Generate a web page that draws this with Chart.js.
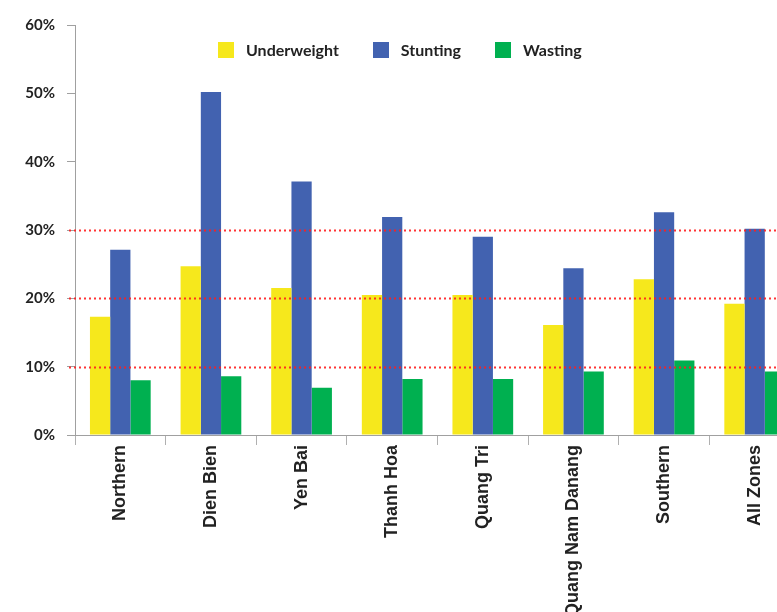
<!DOCTYPE html>
<html>
<head>
<meta charset="utf-8">
<script src="https://cdn.jsdelivr.net/npm/chart.js@4.4.1/dist/chart.umd.min.js"></script>
<style>
    html, body { margin: 0; padding: 0; background: #fff; overflow: hidden; }
    #wrap { position: relative; width: 777px; height: 612px; overflow: hidden; }
    #legend {
        position: absolute; top: 40px; left: 218px;
        display: flex; gap: 34px;
        font-family: Lato, "DejaVu Sans", sans-serif; font-weight: bold; font-size: 16px; color: #222;
    }
    #legend .item { display: flex; align-items: center; }
    #legend .box { width: 16px; height: 16px; margin-right: 12px; }
</style>
</head>
<body>
<div id="wrap">
    <canvas id="nutritionChart" width="805" height="612"></canvas>
    <div id="legend"></div>
</div>
<script>
    // Prevalence by zone, percent of children
    const zones = ['Northern', 'Dien Bien', 'Yen Bai', 'Thanh Hoa', 'Quang Tri', 'Quang Nam Danang', 'Southern', 'All Zones'];
    const underweight = [17.3, 24.7, 21.5, 20.5, 20.5, 16.1, 22.8, 19.2];
    const stunting = [27.1, 50.2, 37.1, 31.9, 29.0, 24.4, 32.6, 30.2];
    const wasting = [8.0, 8.6, 6.9, 8.2, 8.2, 9.3, 10.9, 9.3];
    const yTicks = [0, 10, 20, 30, 40, 50, 60];
    const refLines = [10, 20, 30];

    const colors = {
        underweight: '#f6e81c',
        stunting: '#4262b0',
        wasting: '#00b050'
    };

    // dotted red reference lines, drawn over the bars
    const refLinePlugin = {
        id: 'refLines',
        afterDatasetsDraw(chart) {
            const ctx = chart.ctx;
            const y = chart.scales.y;
            const area = chart.chartArea;
            ctx.save();
            ctx.strokeStyle = 'rgba(255, 30, 30, 0.9)';
            ctx.lineWidth = 2;
            ctx.setLineDash([2, 3]);
            refLines.forEach(v => {
                const py = Math.round(y.getPixelForValue(v)) + 0.5;
                ctx.beginPath();
                ctx.moveTo(area.left - 6, py);
                ctx.lineTo(area.right, py);
                ctx.stroke();
            });
            ctx.restore();
        }
    };

    const chart = new Chart(document.getElementById('nutritionChart').getContext('2d'), {
        type: 'bar',
        data: {
            labels: zones,
            datasets: [
                { label: 'Underweight', data: underweight, backgroundColor: colors.underweight },
                { label: 'Stunting', data: stunting, backgroundColor: colors.stunting },
                { label: 'Wasting', data: wasting, backgroundColor: colors.wasting }
            ]
        },
        options: {
            responsive: false,
            animation: false,
            layout: { padding: { top: 25, right: 5, left: 0, bottom: 0 } },
            datasets: {
                bar: { categoryPercentage: 0.67, barPercentage: 1.0 }
            },
            scales: {
                y: {
                    min: 0,
                    max: 60,
                    afterBuildTicks: scale => { scale.ticks = yTicks.map(v => ({ value: v })); },
                    afterFit: scale => { scale.width = 75; },
                    border: { color: '#a0a0a0', width: 1 },
                    grid: { drawOnChartArea: false, tickLength: 8, color: '#a0a0a0' },
                    ticks: {
                        padding: 12,
                        color: '#222',
                        font: { family: 'Lato', weight: 'bold', size: 15 },
                        callback: v => v + '%'
                    }
                },
                x: {
                    afterFit: scale => { scale.height = 177; },
                    border: { color: '#a0a0a0', width: 1 },
                    grid: { drawOnChartArea: false, offset: true, tickLength: 10, color: '#b0b0b0' },
                    ticks: {
                        minRotation: 90,
                        maxRotation: 90,
                        padding: 0,
                        color: '#222',
                        font: { family: 'Liberation Sans', weight: 'bold', size: 18 }
                    }
                }
            },
            plugins: {
                legend: { display: false },
                tooltip: { enabled: false }
            }
        },
        plugins: [refLinePlugin]
    });

    // legend built from the chart's own legend items
    const legendEl = document.getElementById('legend');
    chart.options.plugins.legend.labels.generateLabels(chart).forEach(item => {
        const el = document.createElement('div');
        el.className = 'item';
        const box = document.createElement('span');
        box.className = 'box';
        box.style.background = item.fillStyle;
        const txt = document.createElement('span');
        txt.textContent = item.text;
        el.appendChild(box);
        el.appendChild(txt);
        legendEl.appendChild(el);
    });
</script>
</body>
</html>
